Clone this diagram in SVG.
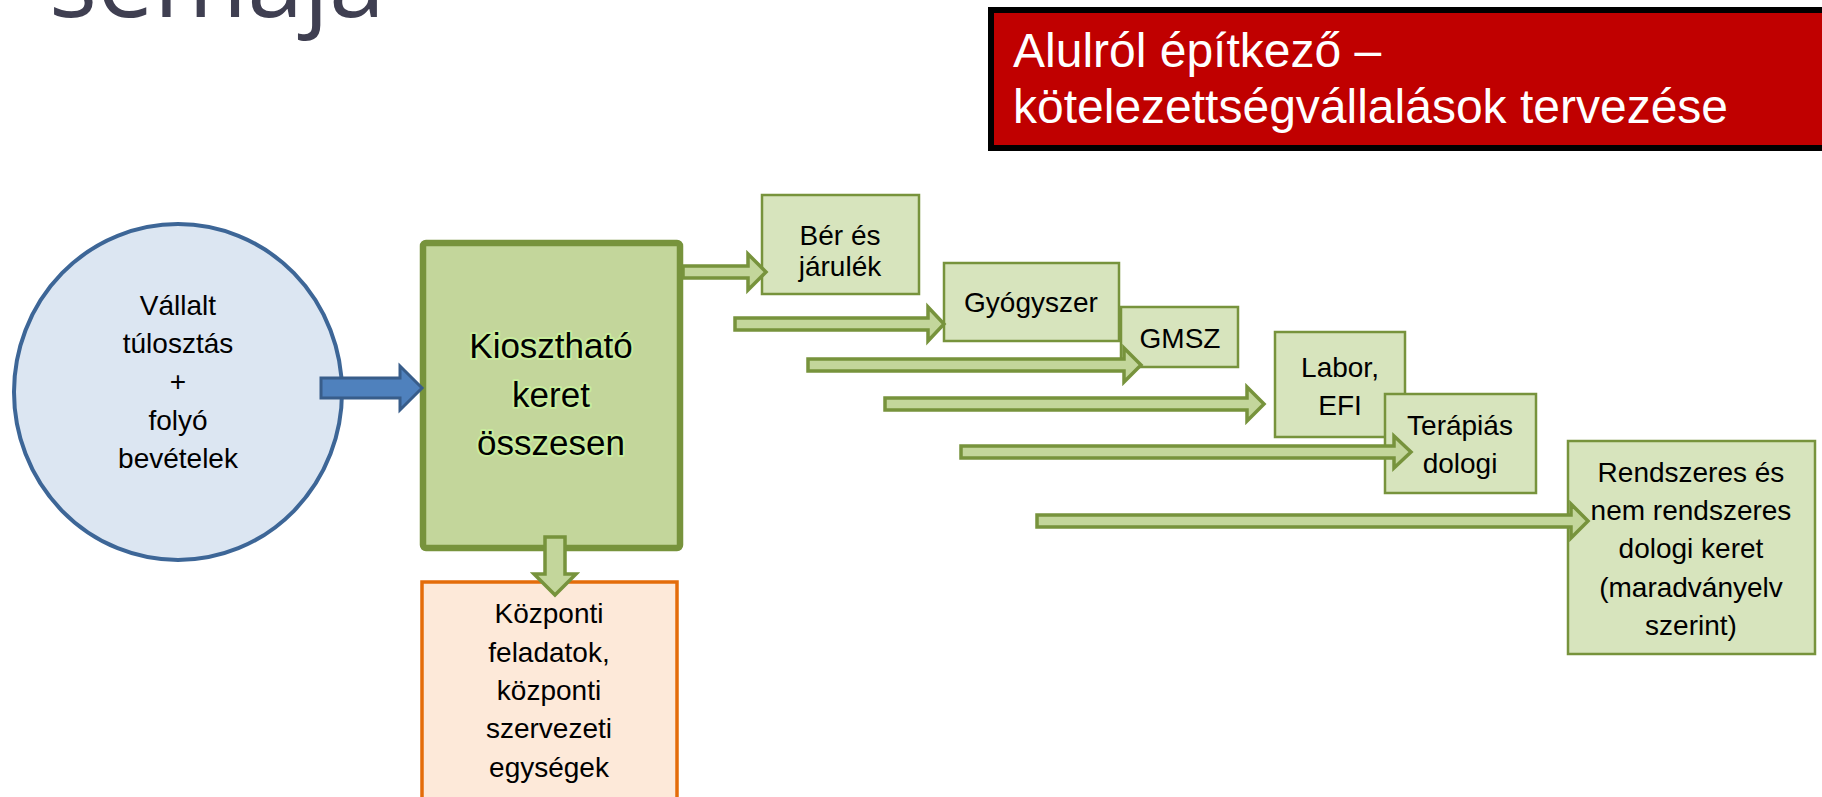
<svg xmlns="http://www.w3.org/2000/svg" width="1822" height="797" viewBox="0 0 1822 797">
<style>
.t{font-family:"Liberation Sans",Arial,sans-serif;font-size:28px;fill:#000;text-anchor:middle}
.box{fill:#d7e4bd;stroke:#77933c;stroke-width:2.5}
.arr{fill:#c3d69b;stroke:#77933c;stroke-width:3.5;stroke-linejoin:miter}
</style>
<rect width="1822" height="797" fill="#fff"/>
<text x="49" y="17" font-family="'Open Sans',sans-serif" font-size="101" fill="#3f3f51">semaja</text>
<g id="title">
<rect x="991" y="10" width="840" height="138" fill="#c00000" stroke="#000" stroke-width="6"/>
<text x="1013" y="67" font-family="'Liberation Sans',Arial,sans-serif" font-size="48" fill="#fff">Alulról építkező –</text>
<text x="1013" y="123" font-family="'Liberation Sans',Arial,sans-serif" font-size="48" fill="#fff">kötelezettségvállalások tervezése</text>
</g>
<g id="n-source">
<ellipse cx="178" cy="392" rx="164" ry="168" fill="#dce6f2" stroke="#3d6697" stroke-width="4"/>
<text class="t" x="178" y="315">Vállalt</text>
<text class="t" x="178" y="353">túlosztás</text>
<text class="t" x="178" y="391">+</text>
<text class="t" x="178" y="430">folyó</text>
<text class="t" x="178" y="468">bevételek</text>
</g>
<g id="n-total">
<rect x="423" y="243" width="257" height="305" rx="3" fill="#c3d69b" stroke="#77933c" stroke-width="6.5"/>
<g class="t" style="font-size:35px;stroke:#c9ec9e;stroke-width:4;paint-order:stroke;stroke-linejoin:round">
<text x="551" y="358">Kiosztható</text>
<text x="551" y="407">keret</text>
<text x="551" y="455">összesen</text>
</g>
</g>
<g id="n-central">
<rect x="422" y="582" width="255" height="240" fill="#fde9d9" stroke="#e46c0a" stroke-width="3.5"/>
<text class="t" x="549" y="623">Központi</text>
<text class="t" x="549" y="662">feladatok,</text>
<text class="t" x="549" y="700">központi</text>
<text class="t" x="549" y="738">szervezeti</text>
<text class="t" x="549" y="777">egységek</text>
</g>
<g id="n-ber">
<rect class="box" x="762" y="195" width="157" height="99"/>
<text class="t" x="840" y="245">Bér és</text>
<text class="t" x="840" y="276">járulék</text>
</g>
<g id="n-gyogy">
<rect class="box" x="944" y="263" width="175" height="78"/>
<text class="t" x="1031" y="312">Gyógyszer</text>
</g>
<g id="n-gmsz">
<rect class="box" x="1121" y="307" width="117" height="60"/>
<text class="t" x="1180" y="348">GMSZ</text>
</g>
<g id="n-labor">
<rect class="box" x="1275" y="332" width="130" height="105"/>
<text class="t" x="1340" y="377">Labor,</text>
<text class="t" x="1340" y="415">EFI</text>
</g>
<g id="n-terap">
<rect class="box" x="1385" y="394" width="151" height="99"/>
<text class="t" x="1460" y="435">Terápiás</text>
<text class="t" x="1460" y="473">dologi</text>
</g>
<g id="n-rendsz">
<rect class="box" x="1568" y="441" width="247" height="213"/>
<text class="t" x="1691" y="482">Rendszeres és</text>
<text class="t" x="1691" y="520">nem rendszeres</text>
<text class="t" x="1691" y="558">dologi keret</text>
<text class="t" x="1691" y="597">(maradványelv</text>
<text class="t" x="1691" y="635">szerint)</text>
</g>
<g id="connectors">
<polygon points="321,378 400,378 400,366 422,388 400,410 400,398 321,398" fill="#4f81bd" stroke="#385d8a" stroke-width="3"/>
<polygon class="arr" points="545,537 565,537 565,574 576,574 555,595 534,574 545,574"/>
<polygon class="arr" points="683,266 748,266 748,254 766,272 748,290 748,278 683,278"/>
<polygon class="arr" points="735,318 928,318 928,307 944,324 928,341 928,330 735,330"/>
<polygon class="arr" points="808,359 1124,359 1124,348 1141,365 1124,382 1124,371 808,371"/>
<polygon class="arr" points="885,398 1247,398 1247,387 1264,404 1247,421 1247,410 885,410"/>
<polygon class="arr" points="961,446 1394,446 1394,436 1411,452 1394,468 1394,458 961,458"/>
<polygon class="arr" points="1037,515 1571,515 1571,504 1588,521 1571,538 1571,527 1037,527"/>
</g>
</svg>
